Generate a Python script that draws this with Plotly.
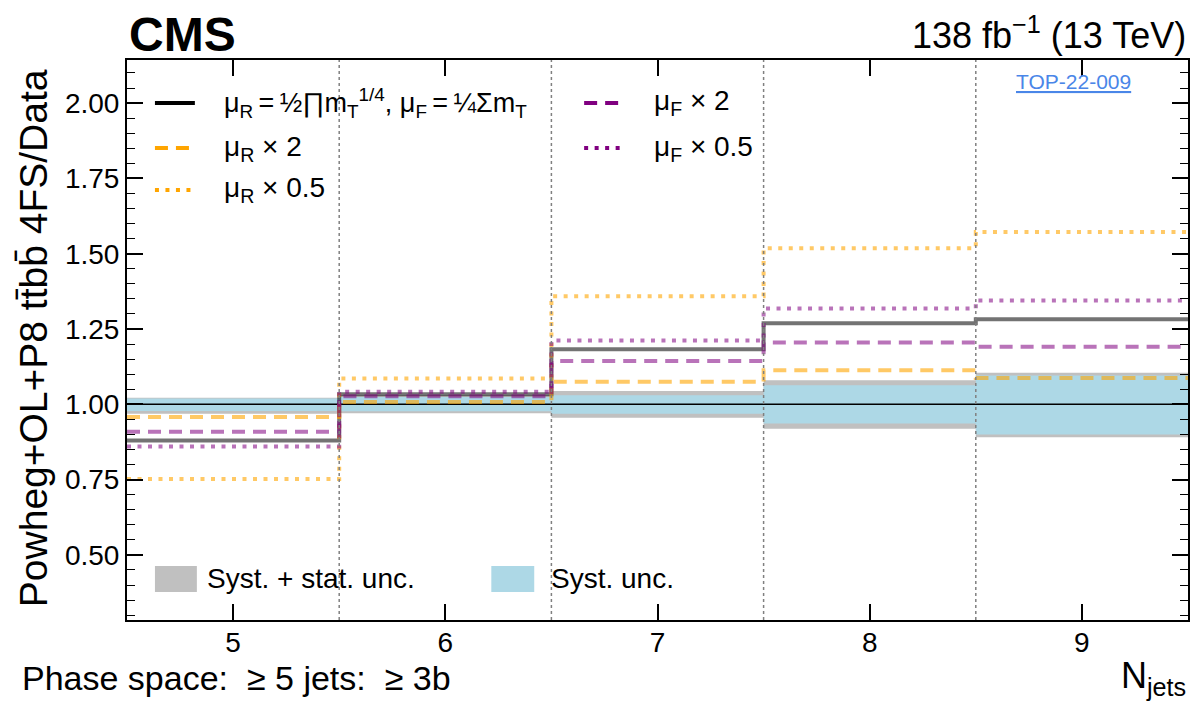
import plotly.graph_objects as go

# ---- data ----
bin_edges = [4.5, 5.5, 6.5, 7.5, 8.5, 9.5]
x_ticks = [5, 6, 7, 8, 9]
nominal = [0.880, 1.033, 1.183, 1.269, 1.282]
muR_x2 = [0.958, 1.008, 1.075, 1.113, 1.087]
muR_x05 = [0.752, 1.086, 1.359, 1.518, 1.572]
muF_x2 = [0.909, 1.027, 1.144, 1.205, 1.191]
muF_x05 = [0.860, 1.042, 1.212, 1.318, 1.345]
tot_up = [1.022, 1.030, 1.044, 1.080, 1.105]
tot_dn = [0.969, 0.970, 0.955, 0.919, 0.891]
syst_up = [1.019, 1.024, 1.030, 1.063, 1.096]
syst_dn = [0.978, 0.977, 0.969, 0.936, 0.900]
y_ticks = [0.50, 0.75, 1.00, 1.25, 1.50, 1.75, 2.00]

FONT = "Liberation Sans"
W, H = 1194, 705
ML, MR, MT, MB = 127, 4, 60, 85
PW, PH = W - ML - MR, H - MT - MB


def px(x):
    return (x - ML) / PW


def py(y):
    return (H - MB - y) / PH


def step(vals):
    return list(vals) + [vals[-1]]


fig = go.Figure()

# bands
for lo, hi, col in [(tot_dn, tot_up, "#c0c0c0"), (syst_dn, syst_up, "#add8e6")]:
    fig.add_trace(go.Scatter(x=bin_edges, y=step(lo), mode="lines", line_shape="hv",
                             line=dict(width=0, color=col), showlegend=False, hoverinfo="skip"))
    fig.add_trace(go.Scatter(x=bin_edges, y=step(hi), mode="lines", line_shape="hv",
                             line=dict(width=0, color=col), fill="tonexty", fillcolor=col,
                             showlegend=False))

# unity line
fig.add_trace(go.Scatter(x=[bin_edges[0], bin_edges[-1]], y=[1, 1], mode="lines",
                         line=dict(color="black", width=1.6), showlegend=False))

DASH = "13px,8px"
DOT = "4px,6.5px"
TS = "\u2009"
series = [
    (nominal, "rgba(0,0,0,0.55)", "black", "solid",
     f"μ<sub>R</sub>{TS}={TS}½∏m<sub>T</sub><sup>1/4</sup>, μ<sub>F</sub>{TS}={TS}¼Σm<sub>T</sub>",
     155, 195, 222, 103, 27),
    (muR_x2, "rgba(255,165,0,0.6)", "#ffa500", DASH, "μ<sub>R</sub> × 2", 155, 195, 222, 148, 28),
    (muR_x05, "rgba(255,165,0,0.6)", "#ffa500", DOT, "μ<sub>R</sub> × 0.5", 155, 195, 222, 190, 28),
    (muF_x2, "rgba(128,0,128,0.55)", "#800080", DASH, "μ<sub>F</sub> × 2", 585, 627, 653, 103, 28),
    (muF_x05, "rgba(128,0,128,0.55)", "#800080", DOT, "μ<sub>F</sub> × 0.5", 585, 627, 653, 148, 28),
]
for vals, col, lcol, dash, name, *_ in series:
    fig.add_trace(go.Scatter(x=bin_edges, y=step(vals), mode="lines", line_shape="hv",
                             line=dict(color=col, width=4, dash=dash), showlegend=False))

# bin separators
for e in bin_edges[1:-1]:
    fig.add_shape(type="line", x0=e, x1=e, y0=0, y1=1, xref="x", yref="paper",
                  line=dict(color="#808080", width=1.5, dash="dot"), layer="above")

# legend (drawn by hand to match the two-column layout)
for vals, col, lcol, dash, name, x0, x1, xt, yc, fs in series:
    fig.add_shape(type="line", xref="paper", yref="paper", x0=px(x0), x1=px(x1),
                  y0=py(yc), y1=py(yc), line=dict(color=lcol, width=4, dash=dash))
    fig.add_annotation(xref="paper", yref="paper", x=px(xt), y=py(yc), text=name,
                       showarrow=False, xanchor="left", yanchor="middle",
                       font=dict(family=FONT, size=fs, color="black"))

for col, x0, x1, xt, name in [("#c0c0c0", 155, 197, 205, "Syst. + stat. unc."),
                              ("#add8e6", 492, 535, 550, "Syst. unc.")]:
    fig.add_shape(type="rect", xref="paper", yref="paper", x0=px(x0), x1=px(x1),
                  y0=py(592), y1=py(566), fillcolor=col, line=dict(width=0))
    fig.add_annotation(xref="paper", yref="paper", x=px(xt), y=py(578), text=name,
                       showarrow=False, xanchor="left", yanchor="middle",
                       font=dict(family=FONT, size=28, color="black"))

axis_common = dict(showline=True, linecolor="black", linewidth=2, mirror="ticks",
                   ticks="inside", ticklen=16, tickwidth=1.5, tickcolor="black",
                   showgrid=False, zeroline=False,
                   tickfont=dict(family=FONT, size=28, color="black"))

fig.update_xaxes(range=[bin_edges[0], bin_edges[-1]], tickvals=x_ticks,
                 ticklabelstandoff=-4, **axis_common)
fig.update_yaxes(range=[0.284, 2.143], tickvals=y_ticks, tickformat=".2f",
                 minor=dict(dtick=0.05, tick0=0, ticks="inside", ticklen=8, tickwidth=1.2,
                            tickcolor="black"),
                 **axis_common)

fig.update_layout(
    width=W, height=H,
    margin=dict(l=ML, r=MR, t=MT, b=MB),
    paper_bgcolor="white", plot_bgcolor="white",
    showlegend=False,
)

annos = [
    dict(text="<b>CMS</b>", x=0.0, y=py(35), xanchor="left", yanchor="middle",
         font=dict(family=FONT, size=48, color="black")),
    dict(text="138 fb<sup>−1</sup> (13 TeV)", x=1.0, y=py(33), xanchor="right", yanchor="middle",
         font=dict(family=FONT, size=36, color="black")),
    dict(text="<u>TOP-22-009</u>", x=px(1075), y=py(82), xanchor="center", yanchor="middle",
         font=dict(family=FONT, size=21, color="#4a86e8")),
    dict(text="N<sub>jets</sub>", x=1.0, y=py(678), xanchor="right", yanchor="middle",
         font=dict(family=FONT, size=36, color="black")),
    dict(text="Phase space:  ≥ 5 jets:  ≥ 3b", x=px(20), y=py(678), xanchor="left",
         yanchor="middle", font=dict(family=FONT, size=34, color="black")),
    dict(text="Powheg+OL+P8 tt̄bb̄ 4FS/Data", x=px(33), y=py(338), xanchor="center",
         yanchor="middle", textangle=-90, font=dict(family=FONT, size=39, color="black")),
]
for a in annos:
    fig.add_annotation(xref="paper", yref="paper", showarrow=False, **a)

fig.write_html("out.html")
